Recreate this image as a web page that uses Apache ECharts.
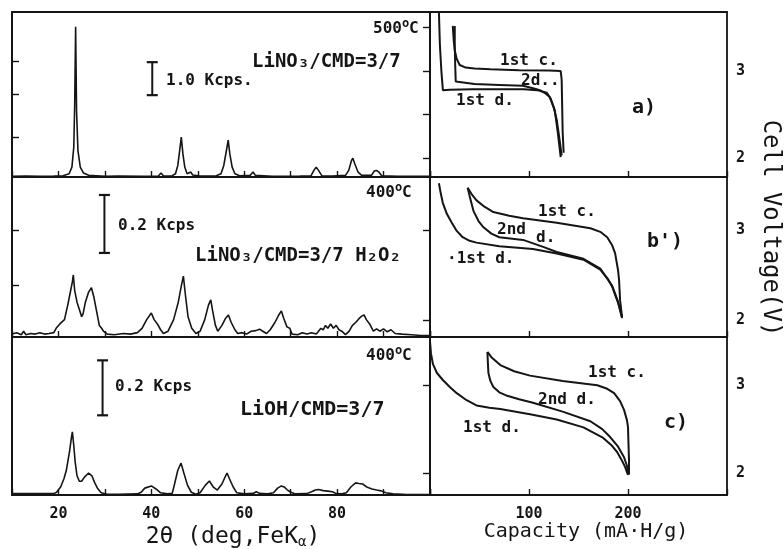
<!DOCTYPE html>
<html>
<head>
<meta charset="utf-8">
<script src="https://cdn.jsdelivr.net/npm/echarts@6/dist/echarts.min.js"></script>
<style>
  html, body { margin: 0; padding: 0; background: #fff; }
  #chart { width: 784px; height: 549px; }
</style>
</head>
<body>
<div id="chart"></div>
<script>
// XRD patterns, [2theta (deg), intensity (Kcps)]
const xrdA = [[10,0.02],[13,0.03],[16,0.02],[19,0.03],[21,0.04],[22.3,0.1],[22.9,0.3],[23.3,0.9],[23.5,2.2],[23.7,4.55],[23.9,2.0],[24.2,0.8],[24.7,0.3],[25.4,0.12],[26.5,0.05],[30,0.02],[33,0.03],[38,0.02],[41.5,0.03],[42.1,0.12],[42.6,0.03],[44.5,0.04],[45.2,0.1],[45.7,0.35],[46.1,0.8],[46.45,1.21],[46.8,0.7],[47.2,0.3],[47.7,0.1],[48.1,0.07],[48.5,0.15],[48.9,0.06],[50.5,0.03],[54,0.04],[55.0,0.1],[55.6,0.35],[56.1,0.75],[56.55,1.12],[56.9,0.7],[57.4,0.3],[58.0,0.1],[59,0.04],[61.3,0.05],[61.9,0.15],[62.4,0.05],[66,0.02],[72,0.03],[74.4,0.04],[75.0,0.2],[75.5,0.3],[76.0,0.2],[76.7,0.04],[79,0.03],[81.8,0.05],[82.5,0.2],[83.1,0.5],[83.4,0.57],[83.8,0.4],[84.5,0.15],[85.3,0.05],[87.4,0.05],[88.0,0.18],[88.5,0.2],[89.0,0.15],[89.6,0.04],[93,0.02],[97,0.02],[100,0.02]];
const xrdB = [[10,0.01],[11,0.015],[12,0.008],[12.5,0.02],[13,0.008],[14,0.012],[15,0.01],[16,0.015],[17,0.01],[18,0.012],[19,0.015],[19.5,0.03],[20.3,0.045],[21.3,0.06],[22.0,0.11],[22.5,0.15],[23.0,0.19],[23.2,0.214],[23.5,0.16],[24.0,0.12],[24.5,0.095],[25.0,0.07],[25.3,0.08],[25.8,0.12],[26.5,0.155],[27.1,0.17],[27.6,0.14],[28.2,0.09],[28.8,0.04],[29.3,0.03],[29.7,0.02],[30.5,0.01],[32,0.008],[34,0.012],[35.5,0.01],[37,0.015],[38.0,0.03],[39.0,0.06],[40.0,0.083],[40.6,0.06],[41.3,0.045],[42.0,0.025],[42.6,0.012],[43.6,0.02],[44.8,0.06],[45.8,0.12],[46.5,0.18],[46.9,0.21],[47.3,0.15],[47.9,0.07],[48.7,0.03],[49.6,0.012],[50.5,0.02],[51.5,0.06],[52.3,0.11],[52.8,0.128],[53.2,0.09],[53.8,0.04],[54.3,0.02],[55.2,0.04],[56.0,0.065],[56.6,0.076],[57.2,0.05],[58.0,0.025],[58.6,0.012],[59.5,0.015],[60.5,0.01],[61.5,0.02],[62.5,0.022],[63.3,0.027],[64.0,0.02],[64.8,0.012],[65.6,0.025],[66.6,0.05],[67.4,0.075],[68.0,0.09],[68.5,0.065],[69.2,0.035],[69.8,0.03],[70.3,0.01],[71.5,0.008],[72.5,0.015],[73.5,0.01],[74.5,0.015],[75.5,0.01],[76.0,0.02],[76.5,0.03],[77,0.025],[77.5,0.04],[78,0.03],[78.6,0.045],[79.2,0.03],[79.8,0.04],[80.4,0.025],[81,0.02],[81.8,0.008],[82.6,0.02],[83.3,0.04],[84.0,0.05],[84.8,0.065],[85.3,0.072],[85.8,0.076],[86.3,0.06],[87.0,0.045],[87.8,0.02],[88.5,0.028],[89.2,0.02],[90,0.028],[90.8,0.018],[91.6,0.025],[92.5,0.012],[94,0.01],[96,0.008],[98,0.005],[100,0.005]];
const xrdC = [[10,0.005],[15,0.005],[19,0.005],[19.6,0.01],[20.5,0.03],[21.2,0.06],[21.7,0.09],[22.4,0.16],[22.8,0.21],[23.0,0.23],[23.3,0.18],[23.6,0.12],[24.0,0.07],[24.5,0.05],[25.0,0.05],[25.6,0.065],[26.5,0.08],[27.2,0.07],[27.8,0.045],[28.4,0.025],[29.2,0.008],[30.5,0.003],[33,0.003],[37,0.004],[37.8,0.01],[38.6,0.025],[40.0,0.033],[41.0,0.022],[42.0,0.008],[43.5,0.004],[44.5,0.006],[45.0,0.04],[45.7,0.09],[46.4,0.116],[47.0,0.08],[47.8,0.035],[48.6,0.01],[49.6,0.003],[50.5,0.008],[51.6,0.035],[52.5,0.051],[53.3,0.03],[54.2,0.018],[55.2,0.04],[56.0,0.07],[56.3,0.08],[56.8,0.06],[57.6,0.03],[58.4,0.008],[60,0.004],[62,0.006],[62.6,0.012],[63.3,0.006],[65,0.004],[66.3,0.008],[67.2,0.025],[68,0.033],[68.7,0.028],[69.2,0.02],[69.8,0.012],[71,0.004],[73.5,0.005],[74.5,0.012],[75.3,0.018],[76.0,0.02],[77,0.016],[78,0.014],[79,0.012],[79.8,0.005],[81,0.004],[82,0.008],[83,0.03],[84,0.044],[84.7,0.042],[85.5,0.04],[86.5,0.028],[87.5,0.022],[88.5,0.018],[89.5,0.015],[90.5,0.008],[92,0.004],[95,0.002],[100,0.002]];

// intensity scale bars, [2theta, Kcps]
const barA = [[40.2,2.48],[40.2,3.48]];
const barB = [[29.9,0.29],[29.9,0.49]];
const barC = [[29.5,0.29],[29.5,0.49]];

// charge / discharge curves, [capacity (mA·H/g), cell voltage (V)]
const dis1A = [[9,3.68],[10,3.3],[11.5,3.0],[13,2.78],[20,2.785],[43,2.79],[70,2.79],[95,2.79],[108,2.78],[118,2.75],[122,2.68],[126,2.55],[129,2.3],[132,2.01]];
const chg1A = [[23,3.52],[24,3.35],[25,3.24],[27,3.14],[30,3.07],[36,3.04],[45,3.03],[61,3.02],[90,3.01],[120,3.005],[132,3.0],[133,2.9],[133.5,2.6],[134,2.3],[135,2.06]];
const dis2A = [[25,3.52],[25,3.3],[25.5,3.05],[26,2.88],[28,2.86],[45,2.85],[70,2.84],[94,2.83],[105,2.8],[111,2.78],[117,2.74],[121,2.7],[125,2.58],[128,2.44],[131,2.2],[133,2.03]];

const dis1B = [[9,3.52],[11,3.4],[13,3.3],[17,3.18],[22,3.08],[27,2.99],[33,2.92],[40,2.88],[47,2.86],[70,2.82],[104,2.79],[128,2.74],[155,2.67],[172,2.56],[180,2.45],[184,2.37],[190,2.19],[194,2.03]];
const chg1B = [[38,3.47],[42,3.4],[47,3.33],[55,3.26],[64,3.2],[80,3.16],[94,3.13],[128,3.08],[162,3.02],[172,2.98],[179,2.92],[184,2.83],[187,2.74],[190,2.55],[191,2.44],[192,2.22],[194,2.03]];
const dis2B = [[38,3.47],[40,3.38],[44,3.21],[49,3.1],[54,3.03],[62,2.96],[70,2.92],[94,2.89],[115,2.81],[128,2.755],[155,2.68],[172,2.57],[184,2.38],[190,2.2],[194,2.02]];

const dis1C = [[0,3.5],[1,3.36],[3,3.24],[7,3.14],[13,3.06],[20,2.98],[27,2.91],[37,2.83],[47,2.77],[60,2.745],[71,2.73],[101,2.67],[128,2.61],[155,2.52],[175,2.4],[183,2.32],[189,2.24],[194,2.14],[197,2.07],[200,1.98]];
const chg1C = [[58,3.38],[62,3.32],[71,3.23],[85,3.16],[101,3.11],[134,3.05],[169,3.0],[179,2.96],[186,2.91],[192,2.82],[196,2.72],[199,2.6],[200,2.52],[201,2.15],[201,1.98]];
const dis2C = [[58,3.38],[58.5,3.25],[59,3.14],[61,3.05],[64,2.98],[70,2.92],[78,2.88],[90,2.84],[104,2.8],[134,2.7],[162,2.59],[174,2.5],[182,2.41],[190,2.3],[196,2.18],[199,2.08],[200,2.0]];

// axis ticks and labels
const thetaLabels = [20, 40, 60, 80];
const capLabels = [100, 200];
const voltLabels = [2, 3];
const voltTicksA = [2, 2.5, 3, 3.5];
const xrdTicksA = [1.2, 2.5, 3.5];
const xrdTicksB = [0.18, 0.37];

const FONT = '"DejaVu Sans Mono", "Liberation Mono", monospace';
const INK = '#151515';

const chart = echarts.init(document.getElementById('chart'), null, { renderer: 'canvas' });

const rows = [
    { top: 12, height: 165, xrdMax: 5.0, vMin: 1.78, vMax: 3.68, xrdTicks: xrdTicksA, vTicks: voltTicksA },
    { top: 177, height: 160, xrdMax: 0.552, vMin: 1.81, vMax: 3.59, xrdTicks: xrdTicksB, vTicks: voltLabels },
    { top: 337, height: 158, xrdMax: 0.575, vMin: 1.75, vMax: 3.55, xrdTicks: [], vTicks: voltLabels }
];

const grids = [], xAxes = [], yAxes = [];
rows.forEach((r, i) => {
    const last = i === rows.length - 1;
    grids.push({ left: 12, top: r.top, width: 418, height: r.height, show: true, borderColor: INK, borderWidth: 1.8 });
    grids.push({ left: 430, top: r.top, width: 297, height: r.height, show: true, borderColor: INK, borderWidth: 1.8 });

    xAxes.push({
        type: 'value', gridIndex: i * 2, min: 10, max: 100, interval: 10,
        axisLine: { show: true, lineStyle: { color: INK, width: 1.8 } },
        axisTick: { show: true, inside: true, length: 6, lineStyle: { color: INK, width: 1.4 } },
        splitLine: { show: false },
        axisLabel: { show: last, customValues: thetaLabels, color: INK, fontFamily: FONT, fontWeight: 'bold', fontSize: 15, margin: 12 }
    });
    xAxes.push({
        type: 'value', gridIndex: i * 2 + 1, min: 0, max: 300, interval: 100,
        axisLine: { show: true, lineStyle: { color: INK, width: 1.8 } },
        axisTick: { show: true, inside: true, length: 6, lineStyle: { color: INK, width: 1.4 } },
        splitLine: { show: false },
        axisLabel: { show: last, customValues: capLabels, color: INK, fontFamily: FONT, fontWeight: 'bold', fontSize: 15, margin: 12 }
    });
    yAxes.push({
        type: 'value', gridIndex: i * 2, min: 0, max: r.xrdMax,
        axisLine: { show: true, lineStyle: { color: INK, width: 1.8 } },
        axisTick: { show: r.xrdTicks.length > 0, inside: true, length: 7, customValues: r.xrdTicks, lineStyle: { color: INK, width: 1.4 } },
        splitLine: { show: false },
        axisLabel: { show: false }
    });
    yAxes.push({
        type: 'value', gridIndex: i * 2 + 1, position: 'right', min: r.vMin, max: r.vMax,
        axisLine: { show: true, lineStyle: { color: INK, width: 1.8 } },
        axisTick: { show: true, inside: true, length: 7, customValues: r.vTicks, lineStyle: { color: INK, width: 1.4 } },
        splitLine: { show: false },
        axisLabel: { show: true, customValues: voltLabels, color: INK, fontFamily: FONT, fontWeight: 'bold', fontSize: 15, margin: 9 }
    });
});

function trace(data, idx, width) {
    return {
        type: 'line', data: data, xAxisIndex: idx, yAxisIndex: idx,
        showSymbol: false, symbol: 'none', smooth: false, silent: true,
        lineStyle: { color: INK, width: width || 1.6 }
    };
}

function scaleBar(data, idx) {
    return {
        type: 'line', data: data, xAxisIndex: idx, yAxisIndex: idx,
        symbol: 'rect', symbolSize: [11, 2.2], showSymbol: true, silent: true,
        itemStyle: { color: INK }, lineStyle: { color: INK, width: 2 }
    };
}

const series = [
    trace(xrdA, 0), scaleBar(barA, 0),
    trace(dis1A, 1, 2), trace(chg1A, 1, 2), trace(dis2A, 1, 2),
    trace(xrdB, 2), scaleBar(barB, 2),
    trace(dis1B, 3, 2), trace(chg1B, 3, 2), trace(dis2B, 3, 2),
    trace(xrdC, 4), scaleBar(barC, 4),
    trace(dis1C, 5, 2), trace(chg1C, 5, 2), trace(dis2C, 5, 2)
];

function txt(text, x, y, size, opts) {
    return Object.assign({
        type: 'text', x: x, y: y, silent: true,
        style: Object.assign({
            text: text, font: 'bold ' + size + 'px ' + FONT, fill: INK,
            textAlign: 'left', textVerticalAlign: 'middle'
        }, (opts && opts.style) || {})
    }, (opts && opts.el) || {});
}

function temp(t, x, y) {
    return txt('{n|' + t + '}{s|o}{n|C}', x, y, 16, { style: { rich: {
        n: { fontFamily: FONT, fontWeight: 'bold', fontSize: 16, fill: INK },
        s: { fontFamily: FONT, fontWeight: 'bold', fontSize: 12, fill: INK, padding: [0, 0, 10, 0] }
    } } });
}

const graphic = [
    // panel a
    temp('500', 373, 29),
    txt('LiNO₃/CMD=3/7', 252, 62, 19),
    txt('1.0 Kcps.', 166, 81, 16),
    txt('1st c.', 500, 61, 16),
    txt('2d..', 521, 81, 16),
    txt('1st d.', 456, 101, 16),
    txt('a)', 632, 108, 20),
    // panel b
    temp('400', 366, 193),
    txt('0.2 Kcps', 118, 226, 16),
    txt('LiNO₃/CMD=3/7 H₂O₂', 195, 256, 19),
    txt('1st c.', 538, 212, 16),
    txt('2nd', 497, 230, 16),
    txt('d.', 536, 238, 16),
    txt('·1st d.', 447, 259, 16),
    txt("b')", 647, 242, 20),
    // panel c
    temp('400', 366, 356),
    txt('0.2 Kcps', 115, 387, 16),
    txt('LiOH/CMD=3/7', 240, 410, 20),
    txt('1st c.', 588, 373, 16),
    txt('2nd d.', 538, 400, 16),
    txt('1st d.', 463, 428, 16),
    txt('c)', 664, 423, 20),
    // axis names
    txt('{a|2θ (deg,FeK}{s|α}{a|)}', 233, 537, 23, { style: { textAlign: 'center', rich: {
        a: { fontFamily: FONT, fontSize: 23, fill: INK },
        s: { fontFamily: FONT, fontSize: 14, fill: INK, padding: [10, 0, 0, 0] }
    } } }),
    txt('Capacity (mA·H/g)', 586, 532, 20, { style: { textAlign: 'center', font: '20px ' + FONT } }),
    txt('Cell Voltage(V)', 770, 228, 24, { style: { textAlign: 'center', font: '24px ' + FONT }, el: { rotation: -Math.PI / 2 } })
];

chart.setOption({
    backgroundColor: '#ffffff',
    animation: false,
    grid: grids,
    xAxis: xAxes,
    yAxis: yAxes,
    series: series,
    graphic: graphic
});
</script>
</body>
</html>
